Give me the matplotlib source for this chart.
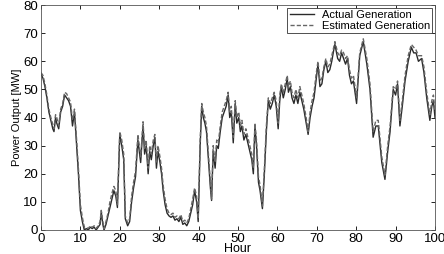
import matplotlib
matplotlib.use("Agg")
import matplotlib.pyplot as plt

# (heure, MW)
heures = [0, 0.5, 1, 1.5, 2, 2.5, 3, 3.3, 3.7, 4, 4.5, 5, 5.5, 6, 6.5, 7, 7.5, 8, 8.5, 9,
          9.5, 10, 10.5, 11, 11.5, 12, 12.5, 13, 13.5, 14, 14.5, 15, 15.3, 15.7, 16, 16.5, 17, 17.5, 18, 18.5,
          19, 19.4, 20, 20.5, 21, 21.4, 22, 22.5, 23, 23.5, 24, 24.6, 25.3, 25.9, 26.3, 26.7, 27.2, 27.6, 28, 28.5,
          28.9, 29.3, 29.7, 30.2, 30.6, 31, 31.5, 32, 32.5, 33, 33.5, 34, 34.5, 35, 35.5, 36, 36.5, 37, 37.5, 38,
          38.5, 39, 39.5, 39.9, 40.4, 40.8, 41.2, 41.6, 42, 42.5, 43, 43.3, 43.7, 44.2, 44.6, 45, 45.5, 46, 46.5, 47,
          47.5, 47.9, 48.3, 48.8, 49.3, 49.7, 50.2, 50.6, 51, 51.5, 52, 52.5, 53, 53.5, 53.9, 54.3, 54.7, 55.2, 55.6, 56.2,
          56.7, 57.2, 57.7, 58.2, 58.7, 59.2, 59.7, 60.2, 60.6, 61, 61.5, 62, 62.5, 62.8, 63.3, 63.7, 64.2, 64.7, 65.2, 65.7,
          66.2, 66.7, 67.3, 67.8, 68.3, 68.8, 69.3, 69.8, 70.3, 70.8, 71.3, 71.8, 72.3, 72.8, 73.3, 73.8, 74.3, 74.6, 75.3, 75.8,
          76.3, 76.8, 77.3, 77.8, 78.3, 78.8, 79.3, 80.1, 80.9, 81.8, 82.7, 83.5, 84.3, 85, 85.6, 86.5, 87.3, 88, 88.6, 89.4,
          90, 90.5, 91.1, 91.7, 92.4, 93.2, 94, 94.6, 95.2, 95.8, 96.6, 97.2, 97.9, 98.7, 99.2, 99.6, 100]
actual = [55.5, 54, 51, 47, 42, 39, 36, 35, 40, 38, 36, 42, 44, 48, 47, 46, 44, 37, 42, 31,
          20, 7, 3, 0, 0.5, 0, 1, 0.5, 1, 0, 1, 2, 6.5, 2, 0, 2, 5, 8, 11, 14,
          12, 8, 34, 30, 25, 4, 1.5, 3, 10, 15, 19, 32, 24, 37, 27, 30, 20, 28, 25, 30,
          33, 22, 28, 24, 20, 14, 9, 6, 5, 4.5, 5, 3.5, 4, 3, 4.5, 2, 2.5, 1.5, 3, 6,
          9, 14, 10, 3, 30, 44, 40, 38, 35, 25, 15, 10.5, 28, 22, 30, 29, 35, 40, 42, 44,
          48, 40, 42, 31, 45, 38, 40, 35, 37, 32, 34, 31, 28, 25, 20, 37, 30, 17, 14, 7.6,
          20, 35, 46, 43, 45, 48, 44, 36, 46, 51, 47, 50, 54, 49, 51, 47, 45, 48, 45, 49,
          46, 43, 38, 34, 40, 44, 47, 53, 59, 51, 52, 57, 60, 56, 57, 60, 64, 66, 61, 60,
          63, 61, 59, 61, 55, 52, 53, 45, 62, 67, 59, 50, 33, 37, 37, 24, 18, 28, 35, 50,
          48, 52, 37, 44, 53, 60, 65, 63, 63, 60, 61, 56, 47, 39, 44, 46, 40]
estime = [56, 55, 52, 48, 43, 40, 37.5, 36, 41, 40, 37, 43, 45, 49, 48.5, 47, 45.5, 39, 43, 33,
          22, 9, 4.5, 1, 1, 0.5, 1.5, 1, 1.5, 0.5, 1.5, 3, 7, 3, 0.5, 3, 6, 10, 13, 15.5,
          14, 9, 35, 32, 27, 5, 2.5, 4, 12, 17, 21, 34, 26, 38.5, 29, 32, 22, 30, 27, 32,
          34, 24, 30, 26, 22, 16, 11, 7.5, 6, 5.5, 6, 4.5, 5, 4, 5.5, 3, 3.5, 2.5, 4, 7.5,
          11, 15, 12, 4, 32, 45, 42, 40, 37, 27, 17, 11, 30, 24, 32, 31, 37, 42, 44, 46,
          49, 42, 44, 33, 46, 40, 42, 37, 39, 34, 36, 33, 30, 27, 22, 38, 32, 19, 16, 8.5,
          22, 37, 47, 45, 47, 49, 46, 38, 48, 52, 49, 52, 55, 51, 53, 49, 47, 50, 47, 51,
          48, 45, 40, 35, 42, 46, 49, 55, 60, 53, 54, 58, 61, 58, 59, 62, 65, 67, 63, 62,
          64, 63, 61, 62, 57, 54, 55, 47, 63, 68, 61, 52, 35, 39, 39, 26, 19.5, 30, 37, 51,
          50, 53, 39, 46, 55, 62, 66, 65, 64, 62, 62, 58, 49, 41, 46, 48, 42]

plt.rcParams["font.family"] = ["Liberation Sans", "DejaVu Sans"]

fig = plt.figure(figsize=(4.44, 2.54), dpi=100)
ax = fig.add_axes([0.0923, 0.0945, 0.8874, 0.8855])

ax.plot(heures, actual, color="#2a2a2a", lw=1.0, label="Actual Generation")
ax.plot(heures, estime, color="#666666", lw=1.0, ls=(0, (3, 1.5)), label="Estimated Generation")

ax.set_xlim(0, 100)
ax.set_ylim(0, 80)
ax.set_xticks(range(0, 101, 10))
ax.set_yticks(range(0, 81, 10))
ax.tick_params(direction="in", top=True, right=True, labelsize=9.5, length=3, width=0.6, pad=2)
for s in ax.spines.values():
    s.set_linewidth(0.6)
    s.set_color("#555555")

ax.set_xlabel("Hour", fontsize=9, labelpad=-1)
ax.set_ylabel("Power Output [MW]", fontsize=8, labelpad=1)

leg = ax.legend(loc="upper right", fontsize=8, fancybox=False, framealpha=1,
                edgecolor="#333333", borderaxespad=0.25, handlelength=2.2,
                borderpad=0.2, labelspacing=0.05, handletextpad=0.7)
leg.get_frame().set_linewidth(0.6)

fig.savefig("out.png", dpi=100)
